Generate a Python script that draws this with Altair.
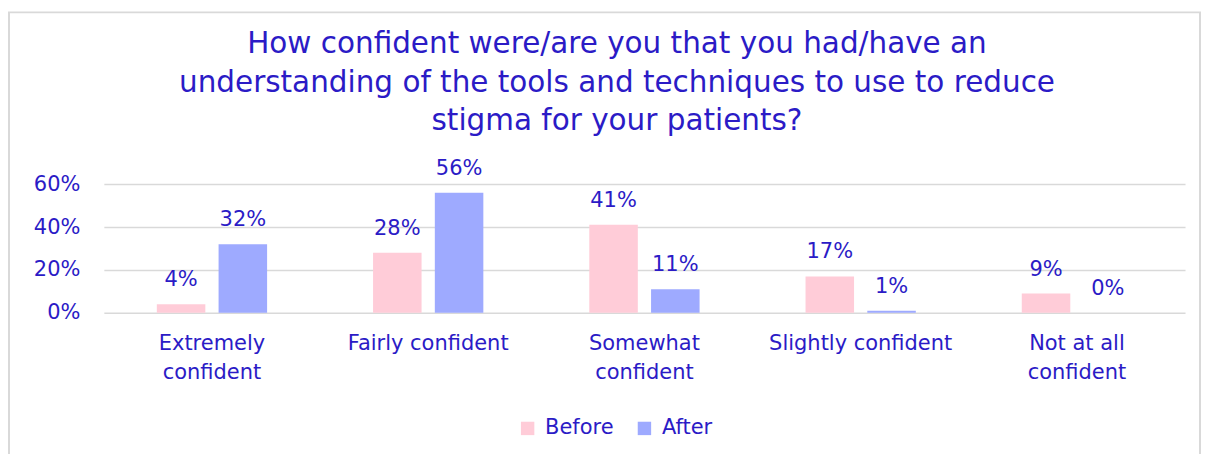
import altair as alt
import pandas as pd

categories = ["Extremely confident", "Fairly confident", "Somewhat confident",
              "Slightly confident", "Not at all confident"]
series = ["Before", "After"]
before = [4, 28, 41, 17, 9]
after = [32, 56, 11, 1, 0]
y_ticks = [0, 20, 40, 60]
title_lines = ["How confident were/are you that you had/have an",
               "understanding of the tools and techniques to use to reduce",
               "stigma for your patients?"]

rows = []
for c, b, a in zip(categories, before, after):
    rows.append({"category": c, "period": "Before", "value": b})
    rows.append({"category": c, "period": "After", "value": a})
df = pd.DataFrame(rows)
df["label"] = df["value"].astype(str) + "%"

TXT = "#2B1BC6"
FONT = "DejaVu Sans"
GRID = "#D9D9D9"
FS = 21

label_expr = (
    "datum.label == 'Extremely confident' ? ['Extremely', 'confident'] : "
    "datum.label == 'Somewhat confident' ? ['Somewhat', 'confident'] : "
    "datum.label == 'Not at all confident' ? ['Not at all', 'confident'] : datum.label"
)

x = alt.X("category:N", sort=categories,
          scale=alt.Scale(paddingInner=0.49, paddingOuter=0.245),
          axis=alt.Axis(title=None, labelAngle=0, labelFontSize=FS, labelColor=TXT,
                        labelFont=FONT, labelExpr=label_expr, labelLineHeight=29,
                        labelPadding=20, labelBaseline="top", labelLimit=400,
                        domain=False, ticks=False))
xo = alt.XOffset("period:N", sort=series,
                 scale=alt.Scale(paddingInner=0.2145, paddingOuter=0))
y = alt.Y("value:Q", scale=alt.Scale(domain=[0, 60]),
          axis=alt.Axis(title=None, values=y_ticks, labelExpr="datum.value + '%'",
                        grid=True, gridColor=GRID, gridWidth=1.5, domain=False,
                        ticks=False, labelPadding=24, labelFontSize=FS,
                        labelColor=TXT, labelFont=FONT))
color = alt.Color("period:N", sort=series,
                  scale=alt.Scale(domain=series, range=["#FFCCD8", "#9EAAFF"]),
                  legend=alt.Legend(title=None, orient="none", legendX=414, legendY=234,
                                    direction="horizontal", symbolType="square",
                                    symbolSize=180, symbolStrokeWidth=0,
                                    labelFontSize=FS, labelColor=TXT, labelFont=FONT,
                                    columnPadding=20, labelOffset=7))

base = alt.Chart(df)
bars = base.mark_bar().encode(x=x, xOffset=xo, y=y, color=color)
texts = base.mark_text(fontSize=FS, font=FONT, color=TXT, baseline="alphabetic",
                       dy=-18).encode(x=x, xOffset=xo, y=y, text="label:N")

one = pd.DataFrame({"f": [0]})
frame = alt.Chart(one).mark_rect(
    fill=None, stroke=GRID, strokeWidth=2
).encode(x=alt.value(-95), x2=alt.value(1098), y=alt.value(-172), y2=alt.value(330))

title = alt.Chart(one).mark_text(
    text=title_lines, fontSize=29.5, font=FONT, color=TXT, lineHeight=38.5,
    align="center", baseline="alphabetic"
).encode(x=alt.value(514), y=alt.value(-131))

chart = alt.layer(frame, bars, texts, title).properties(
    width=1083, height=129,
    padding={"left": 96, "top": 176, "right": 18, "bottom": 152},
    autosize=alt.AutoSizeParams(type="none"),
).configure(background="white").configure_view(stroke=None)

chart.save("out.html", embed_options={"renderer": "svg", "actions": False})
